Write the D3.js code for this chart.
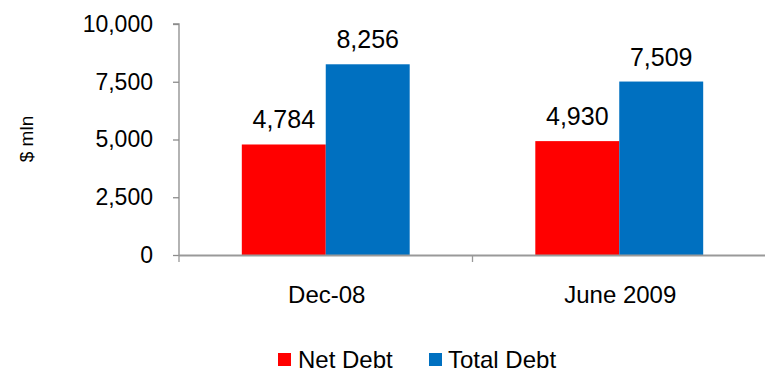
<!DOCTYPE html>
<html>
<head>
<meta charset="utf-8">
<script src="https://cdn.jsdelivr.net/npm/d3@7"></script>
<style>
  html, body { margin: 0; padding: 0; background: #fff; }
  svg { display: block; font-family: Arial, "Liberation Sans", sans-serif; }
</style>
</head>
<body>
<svg id="chart" width="765" height="372"></svg>
<script>
// Debt position, $ mln
const categories = ["Dec-08", "June 2009"];
const seriesNames = ["Net Debt", "Total Debt"];
const netDebt = [4784, 4930];
const totalDebt = [8256, 7509];
const yTicks = [0, 2500, 5000, 7500, 10000];
const colors = ["#FF0000", "#0070C0"];

const seriesValues = [netDebt, totalDebt];
const svg = d3.select("#chart");

const x0 = 179, x1 = 766, yBase = 255, yTop = 24;

const x = d3.scaleBand().domain(categories).range([x0, x1])
  .paddingInner(0.428).paddingOuter(0.214);
const xs = d3.scaleBand().domain(seriesNames).range([0, x.bandwidth()]);
const y = d3.scaleLinear().domain([0, 10000]).range([yBase, yTop]);

// y axis
const yAxis = svg.append("g")
  .attr("transform", `translate(${x0},0)`)
  .call(d3.axisLeft(y).tickValues(yTicks).tickSize(6).tickPadding(20)
    .tickFormat(d3.format(",")));
yAxis.select(".domain").attr("stroke", "#8c8c8c").attr("stroke-width", 1.3)
  .attr("d", `M-6,${yTop}H0V${yBase}`);
yAxis.selectAll(".tick line").attr("stroke", "#8c8c8c").attr("stroke-width", 1.3);
yAxis.selectAll(".tick text").attr("font-size", 23).attr("fill", "#000")
  .attr("font-family", "Arial, 'Liberation Sans', sans-serif");

// y axis title
svg.append("text")
  .attr("transform", "translate(33,139) rotate(-90)")
  .attr("text-anchor", "middle")
  .attr("font-size", 19)
  .text("$ mln");

// bars
const groups = svg.append("g").selectAll("g")
  .data(categories)
  .join("g")
  .attr("transform", d => `translate(${x(d)},0)`);

groups.selectAll("rect")
  .data((c, i) => seriesNames.map((s, k) => ({ s, k, v: seriesValues[k][i] })))
  .join("rect")
  .attr("x", d => xs(d.s))
  .attr("width", xs.bandwidth())
  .attr("y", d => y(d.v))
  .attr("height", d => y(0) - y(d.v))
  .attr("fill", d => colors[d.k]);

// value labels
groups.selectAll("text.val")
  .data((c, i) => seriesNames.map((s, k) => ({ s, k, v: seriesValues[k][i] })))
  .join("text")
  .attr("class", "val")
  .attr("x", d => xs(d.s) + xs.bandwidth() / 2)
  .attr("y", d => y(d.v) - 16)
  .attr("text-anchor", "middle")
  .attr("font-size", 25)
  .attr("fill", "#000")
  .text(d => d3.format(",")(d.v));

// x axis
const step = x.step();
const bounds = d3.range(categories.length + 1).map(i => x0 + i * step);
const xAxis = svg.append("g");
xAxis.append("line")
  .attr("x1", x0).attr("x2", x1).attr("y1", yBase + 0.5).attr("y2", yBase + 0.5)
  .attr("stroke", "#999").attr("stroke-width", 2);
xAxis.selectAll("line.tick")
  .data(bounds)
  .join("line")
  .attr("class", "tick")
  .attr("x1", d => d).attr("x2", d => d)
  .attr("y1", yBase).attr("y2", yBase + 7)
  .attr("stroke", "#999").attr("stroke-width", 1.3);
xAxis.selectAll("text")
  .data(categories)
  .join("text")
  .attr("x", d => x(d) + x.bandwidth() / 2 + 1)
  .attr("y", 303)
  .attr("text-anchor", "middle")
  .attr("font-size", 24)
  .attr("fill", "#000")
  .text(d => d);

// legend
const legendX = [278, 429];
const legend = svg.append("g").selectAll("g")
  .data(seriesNames)
  .join("g")
  .attr("transform", (d, i) => `translate(${legendX[i]},353)`);
legend.append("rect")
  .attr("width", 13).attr("height", 13)
  .attr("fill", (d, i) => colors[i]);
legend.append("text")
  .attr("x", (d, i) => i === 0 ? 20 : 19)
  .attr("y", 15)
  .attr("font-size", 24)
  .attr("fill", "#000")
  .text(d => d);
</script>
</body>
</html>
